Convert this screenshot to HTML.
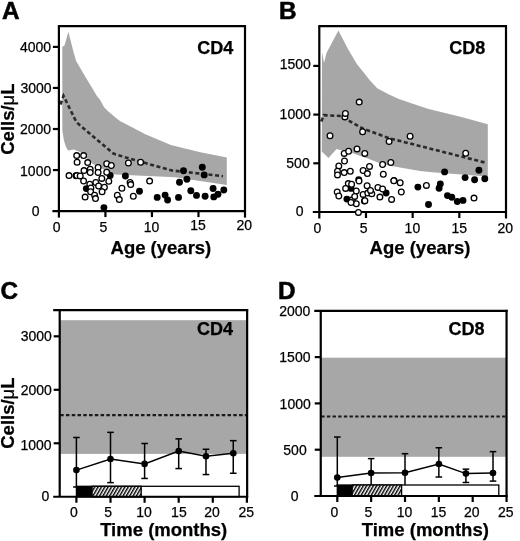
<!DOCTYPE html>
<html><head><meta charset="utf-8"><style>
html,body{margin:0;padding:0;background:#fff;overflow:hidden}
svg{display:block;will-change:transform}
text{font-family:"Liberation Sans",sans-serif;fill:#000;stroke:#000;stroke-width:0.25px}
</style></head><body>
<svg width="520" height="541" viewBox="0 0 520 541">
<defs><pattern id="hatch" patternUnits="userSpaceOnUse" width="2.9" height="4" patternTransform="rotate(30)"><rect width="2.9" height="4" fill="#fff"/><rect x="0" y="0" width="1.45" height="4" fill="#000"/></pattern></defs>
<rect width="520" height="541" fill="#fff"/>
<polygon points="62.3,46.8 64.5,45.4 68.4,31.8 73.5,51.9 76.1,61.0 85.2,76.5 92.6,88.8 96.9,96.0 99.8,99.6 104.1,107.3 108.4,111.6 115.4,117.6 120.0,121.0 145.4,134.3 170.8,144.9 200.4,152.3 226.8,157.6 226.8,185.0 175.0,177.3 115.0,174.4 110.0,172.7 93.0,164.0 80.0,152.0 74.0,149.5 68.0,150.5 66.0,147.0 63.8,140.0 62.3,130.0" fill="#a7a7a7"/>
<polygon points="322.0,52.0 324.0,63.0 326.5,53.0 338.4,30.4 348.0,49.0 356.5,63.5 366.1,75.5 370.0,80.5 377.2,88.2 388.0,94.0 398.8,99.0 427.7,108.7 461.3,117.1 487.8,124.3 487.8,176.6 432.0,172.3 420.0,171.0 390.0,165.8 380.0,163.2 367.0,158.3 353.6,153.5 336.5,149.0 328.5,158.0 321.8,151.5" fill="#a7a7a7"/>
<polyline points="60.5,104.5 63.5,95.8 76.5,122.3 95.0,138.0 113.5,153.6 130.0,158.8 141.0,161.7 155.0,165.8 172.0,170.5 223.0,176.2" fill="none" stroke="#2a2a2a" stroke-width="2.6" stroke-dasharray="4 2.6"/>
<polyline points="321.3,121.5 323.8,115.2 341.0,116.0 362.6,128.5 390.0,138.5 440.0,151.1 485.0,162.5" fill="none" stroke="#2a2a2a" stroke-width="2.6" stroke-dasharray="4 2.6"/>
<line x1="58.90" y1="26.15" x2="58.90" y2="217.60" stroke="#000" stroke-width="2.2" />
<line x1="52.40" y1="211.10" x2="246.00" y2="211.10" stroke="#000" stroke-width="2.2" />
<line x1="57.90" y1="26.15" x2="246.00" y2="26.15" stroke="#000" stroke-width="2.2" />
<line x1="245.00" y1="25.15" x2="245.00" y2="217.60" stroke="#000" stroke-width="2.2" />
<line x1="52.90" y1="170.05" x2="58.90" y2="170.05" stroke="#000" stroke-width="2.2" />
<line x1="52.90" y1="129.00" x2="58.90" y2="129.00" stroke="#000" stroke-width="2.2" />
<line x1="52.90" y1="87.95" x2="58.90" y2="87.95" stroke="#000" stroke-width="2.2" />
<line x1="52.90" y1="46.90" x2="58.90" y2="46.90" stroke="#000" stroke-width="2.2" />
<line x1="105.42" y1="211.10" x2="105.42" y2="217.10" stroke="#000" stroke-width="2.2" />
<line x1="151.95" y1="211.10" x2="151.95" y2="217.10" stroke="#000" stroke-width="2.2" />
<line x1="198.47" y1="211.10" x2="198.47" y2="217.10" stroke="#000" stroke-width="2.2" />
<text x="35.50" y="51.90" font-size="14" font-weight="normal" text-anchor="middle" >4000</text>
<text x="36.10" y="93.25" font-size="14" font-weight="normal" text-anchor="middle" >3000</text>
<text x="35.55" y="134.40" font-size="14" font-weight="normal" text-anchor="middle" >2000</text>
<text x="35.65" y="175.70" font-size="14" font-weight="normal" text-anchor="middle" >1000</text>
<text x="35.70" y="216.45" font-size="14" font-weight="normal" text-anchor="middle" >0</text>
<text x="56.60" y="232.00" font-size="14" font-weight="normal" text-anchor="middle" >0</text>
<text x="103.50" y="232.00" font-size="14" font-weight="normal" text-anchor="middle" >5</text>
<text x="151.60" y="232.00" font-size="14" font-weight="normal" text-anchor="middle" >10</text>
<text x="198.00" y="229.80" font-size="14" font-weight="normal" text-anchor="middle" >15</text>
<text x="244.30" y="229.80" font-size="14" font-weight="normal" text-anchor="middle" >20</text>
<text x="160.90" y="253.80" font-size="18.5" font-weight="bold" text-anchor="middle" >Age (years)</text>
<text x="14.40" y="119.10" font-size="18.5" font-weight="bold" text-anchor="middle" transform="rotate(-90 14.4 119.1)">Cells/<tspan font-weight="normal">μ</tspan>L</text>
<text x="1.90" y="18.80" font-size="24.3" font-weight="bold" text-anchor="start" style="stroke-width:0.55px">A</text>
<text x="233.30" y="53.70" font-size="18" font-weight="bold" text-anchor="end" >CD4</text>
<line x1="319.30" y1="26.15" x2="319.30" y2="218.50" stroke="#000" stroke-width="2.2" />
<line x1="312.80" y1="212.00" x2="507.00" y2="212.00" stroke="#000" stroke-width="2.2" />
<line x1="318.30" y1="26.15" x2="507.00" y2="26.15" stroke="#000" stroke-width="2.2" />
<line x1="506.00" y1="25.15" x2="506.00" y2="218.50" stroke="#000" stroke-width="2.2" />
<line x1="313.30" y1="163.30" x2="319.30" y2="163.30" stroke="#000" stroke-width="2.2" />
<line x1="313.30" y1="114.60" x2="319.30" y2="114.60" stroke="#000" stroke-width="2.2" />
<line x1="313.30" y1="65.90" x2="319.30" y2="65.90" stroke="#000" stroke-width="2.2" />
<line x1="365.98" y1="212.00" x2="365.98" y2="218.00" stroke="#000" stroke-width="2.2" />
<line x1="412.65" y1="212.00" x2="412.65" y2="218.00" stroke="#000" stroke-width="2.2" />
<line x1="459.33" y1="212.00" x2="459.33" y2="218.00" stroke="#000" stroke-width="2.2" />
<text x="295.25" y="69.45" font-size="14" font-weight="normal" text-anchor="middle" >1500</text>
<text x="295.20" y="118.60" font-size="14" font-weight="normal" text-anchor="middle" >1000</text>
<text x="298.00" y="167.55" font-size="14" font-weight="normal" text-anchor="middle" >500</text>
<text x="299.70" y="216.10" font-size="14" font-weight="normal" text-anchor="middle" >0</text>
<text x="317.30" y="233.00" font-size="14" font-weight="normal" text-anchor="middle" >0</text>
<text x="363.70" y="233.00" font-size="14" font-weight="normal" text-anchor="middle" >5</text>
<text x="412.40" y="233.00" font-size="14" font-weight="normal" text-anchor="middle" >10</text>
<text x="459.20" y="233.00" font-size="14" font-weight="normal" text-anchor="middle" >15</text>
<text x="505.30" y="233.00" font-size="14" font-weight="normal" text-anchor="middle" >20</text>
<text x="420.00" y="254.30" font-size="18.5" font-weight="bold" text-anchor="middle" >Age (years)</text>
<text x="279.00" y="18.80" font-size="24.3" font-weight="bold" text-anchor="start" style="stroke-width:0.55px">B</text>
<text x="485.20" y="53.50" font-size="18" font-weight="bold" text-anchor="end" >CD8</text>
<circle cx="75.9" cy="175.7" r="3.45" fill="#000"/>
<circle cx="86.3" cy="188.6" r="3.45" fill="#000"/>
<circle cx="110.2" cy="175.5" r="3.45" fill="#000"/>
<circle cx="125.4" cy="176.0" r="3.45" fill="#000"/>
<circle cx="139.5" cy="191.3" r="3.45" fill="#000"/>
<circle cx="103.9" cy="207.6" r="3.45" fill="#000"/>
<circle cx="157.2" cy="197.4" r="3.45" fill="#000"/>
<circle cx="165.1" cy="195.1" r="3.45" fill="#000"/>
<circle cx="167.6" cy="200.0" r="3.45" fill="#000"/>
<circle cx="183.5" cy="170.8" r="3.45" fill="#000"/>
<circle cx="202.3" cy="167.2" r="3.45" fill="#000"/>
<circle cx="204.2" cy="174.9" r="3.45" fill="#000"/>
<circle cx="186.9" cy="179.2" r="3.45" fill="#000"/>
<circle cx="179.5" cy="182.3" r="3.45" fill="#000"/>
<circle cx="213.1" cy="188.5" r="3.45" fill="#000"/>
<circle cx="223.8" cy="190.0" r="3.45" fill="#000"/>
<circle cx="190.8" cy="190.8" r="3.45" fill="#000"/>
<circle cx="196.5" cy="195.4" r="3.45" fill="#000"/>
<circle cx="205.1" cy="196.2" r="3.45" fill="#000"/>
<circle cx="218.0" cy="194.3" r="3.45" fill="#000"/>
<circle cx="213.8" cy="196.9" r="3.45" fill="#000"/>
<circle cx="178.5" cy="197.4" r="3.45" fill="#000"/>
<circle cx="76.9" cy="175.6" r="2.85" fill="#fff" stroke="#000" stroke-width="1.3"/>
<circle cx="76.7" cy="155.6" r="2.85" fill="#fff" stroke="#000" stroke-width="1.3"/>
<circle cx="83.6" cy="155.6" r="2.85" fill="#fff" stroke="#000" stroke-width="1.3"/>
<circle cx="77.1" cy="162.3" r="2.85" fill="#fff" stroke="#000" stroke-width="1.3"/>
<circle cx="87.7" cy="162.6" r="2.85" fill="#fff" stroke="#000" stroke-width="1.3"/>
<circle cx="106.7" cy="163.7" r="2.85" fill="#fff" stroke="#000" stroke-width="1.3"/>
<circle cx="111.3" cy="165.5" r="2.85" fill="#fff" stroke="#000" stroke-width="1.3"/>
<circle cx="98.1" cy="167.5" r="2.85" fill="#fff" stroke="#000" stroke-width="1.3"/>
<circle cx="90.2" cy="169.2" r="2.85" fill="#fff" stroke="#000" stroke-width="1.3"/>
<circle cx="84.0" cy="170.6" r="2.85" fill="#fff" stroke="#000" stroke-width="1.3"/>
<circle cx="90.2" cy="172.5" r="2.85" fill="#fff" stroke="#000" stroke-width="1.3"/>
<circle cx="98.1" cy="172.5" r="2.85" fill="#fff" stroke="#000" stroke-width="1.3"/>
<circle cx="106.7" cy="172.3" r="2.85" fill="#fff" stroke="#000" stroke-width="1.3"/>
<circle cx="69.0" cy="175.6" r="2.85" fill="#fff" stroke="#000" stroke-width="1.3"/>
<circle cx="80.2" cy="175.9" r="2.85" fill="#fff" stroke="#000" stroke-width="1.3"/>
<circle cx="101.8" cy="178.4" r="2.85" fill="#fff" stroke="#000" stroke-width="1.3"/>
<circle cx="108.8" cy="181.2" r="2.85" fill="#fff" stroke="#000" stroke-width="1.3"/>
<circle cx="83.6" cy="181.0" r="2.85" fill="#fff" stroke="#000" stroke-width="1.3"/>
<circle cx="89.8" cy="184.2" r="2.85" fill="#fff" stroke="#000" stroke-width="1.3"/>
<circle cx="95.8" cy="182.5" r="2.85" fill="#fff" stroke="#000" stroke-width="1.3"/>
<circle cx="98.6" cy="186.0" r="2.85" fill="#fff" stroke="#000" stroke-width="1.3"/>
<circle cx="104.4" cy="187.3" r="2.85" fill="#fff" stroke="#000" stroke-width="1.3"/>
<circle cx="90.9" cy="187.9" r="2.85" fill="#fff" stroke="#000" stroke-width="1.3"/>
<circle cx="90.6" cy="191.7" r="2.85" fill="#fff" stroke="#000" stroke-width="1.3"/>
<circle cx="102.1" cy="191.7" r="2.85" fill="#fff" stroke="#000" stroke-width="1.3"/>
<circle cx="94.6" cy="195.2" r="2.85" fill="#fff" stroke="#000" stroke-width="1.3"/>
<circle cx="85.1" cy="197.1" r="2.85" fill="#fff" stroke="#000" stroke-width="1.3"/>
<circle cx="95.5" cy="198.6" r="2.85" fill="#fff" stroke="#000" stroke-width="1.3"/>
<circle cx="117.3" cy="195.2" r="2.85" fill="#fff" stroke="#000" stroke-width="1.3"/>
<circle cx="119.3" cy="199.6" r="2.85" fill="#fff" stroke="#000" stroke-width="1.3"/>
<circle cx="121.9" cy="188.3" r="2.85" fill="#fff" stroke="#000" stroke-width="1.3"/>
<circle cx="130.1" cy="182.4" r="2.85" fill="#fff" stroke="#000" stroke-width="1.3"/>
<circle cx="130.7" cy="184.6" r="2.85" fill="#fff" stroke="#000" stroke-width="1.3"/>
<circle cx="133.3" cy="196.2" r="2.85" fill="#fff" stroke="#000" stroke-width="1.3"/>
<circle cx="128.4" cy="163.0" r="2.85" fill="#fff" stroke="#000" stroke-width="1.3"/>
<circle cx="140.6" cy="162.2" r="2.85" fill="#fff" stroke="#000" stroke-width="1.3"/>
<circle cx="149.6" cy="181.1" r="2.85" fill="#fff" stroke="#000" stroke-width="1.3"/>
<circle cx="358.7" cy="179.6" r="3.45" fill="#000"/>
<circle cx="351.0" cy="188.4" r="3.45" fill="#000"/>
<circle cx="346.9" cy="199.1" r="3.45" fill="#000"/>
<circle cx="386.1" cy="193.0" r="3.45" fill="#000"/>
<circle cx="444.6" cy="171.9" r="3.45" fill="#000"/>
<circle cx="478.9" cy="170.2" r="3.45" fill="#000"/>
<circle cx="465.1" cy="177.6" r="3.45" fill="#000"/>
<circle cx="474.6" cy="179.7" r="3.45" fill="#000"/>
<circle cx="484.8" cy="178.7" r="3.45" fill="#000"/>
<circle cx="417.9" cy="187.1" r="3.45" fill="#000"/>
<circle cx="440.3" cy="183.9" r="3.45" fill="#000"/>
<circle cx="439.1" cy="188.2" r="3.45" fill="#000"/>
<circle cx="447.5" cy="195.6" r="3.45" fill="#000"/>
<circle cx="451.8" cy="197.3" r="3.45" fill="#000"/>
<circle cx="457.3" cy="201.5" r="3.45" fill="#000"/>
<circle cx="463.0" cy="200.4" r="3.45" fill="#000"/>
<circle cx="428.5" cy="204.5" r="3.45" fill="#000"/>
<circle cx="359.2" cy="102.1" r="2.85" fill="#fff" stroke="#000" stroke-width="1.3"/>
<circle cx="344.9" cy="116.9" r="2.85" fill="#fff" stroke="#000" stroke-width="1.3"/>
<circle cx="345.4" cy="113.4" r="2.85" fill="#fff" stroke="#000" stroke-width="1.3"/>
<circle cx="330.0" cy="135.8" r="2.85" fill="#fff" stroke="#000" stroke-width="1.3"/>
<circle cx="362.6" cy="131.8" r="2.85" fill="#fff" stroke="#000" stroke-width="1.3"/>
<circle cx="389.1" cy="141.5" r="2.85" fill="#fff" stroke="#000" stroke-width="1.3"/>
<circle cx="410.1" cy="136.3" r="2.85" fill="#fff" stroke="#000" stroke-width="1.3"/>
<circle cx="465.7" cy="153.3" r="2.85" fill="#fff" stroke="#000" stroke-width="1.3"/>
<circle cx="344.2" cy="153.4" r="2.85" fill="#fff" stroke="#000" stroke-width="1.3"/>
<circle cx="348.6" cy="151.3" r="2.85" fill="#fff" stroke="#000" stroke-width="1.3"/>
<circle cx="357.0" cy="148.9" r="2.85" fill="#fff" stroke="#000" stroke-width="1.3"/>
<circle cx="364.8" cy="153.4" r="2.85" fill="#fff" stroke="#000" stroke-width="1.3"/>
<circle cx="344.5" cy="161.0" r="2.85" fill="#fff" stroke="#000" stroke-width="1.3"/>
<circle cx="338.8" cy="165.9" r="2.85" fill="#fff" stroke="#000" stroke-width="1.3"/>
<circle cx="337.5" cy="171.3" r="2.85" fill="#fff" stroke="#000" stroke-width="1.3"/>
<circle cx="337.5" cy="174.9" r="2.85" fill="#fff" stroke="#000" stroke-width="1.3"/>
<circle cx="344.2" cy="172.6" r="2.85" fill="#fff" stroke="#000" stroke-width="1.3"/>
<circle cx="350.3" cy="171.3" r="2.85" fill="#fff" stroke="#000" stroke-width="1.3"/>
<circle cx="363.1" cy="170.5" r="2.85" fill="#fff" stroke="#000" stroke-width="1.3"/>
<circle cx="369.5" cy="166.4" r="2.85" fill="#fff" stroke="#000" stroke-width="1.3"/>
<circle cx="367.4" cy="173.6" r="2.85" fill="#fff" stroke="#000" stroke-width="1.3"/>
<circle cx="382.6" cy="164.5" r="2.85" fill="#fff" stroke="#000" stroke-width="1.3"/>
<circle cx="383.3" cy="174.2" r="2.85" fill="#fff" stroke="#000" stroke-width="1.3"/>
<circle cx="390.8" cy="162.5" r="2.85" fill="#fff" stroke="#000" stroke-width="1.3"/>
<circle cx="359.0" cy="181.0" r="2.85" fill="#fff" stroke="#000" stroke-width="1.3"/>
<circle cx="348.3" cy="183.6" r="2.85" fill="#fff" stroke="#000" stroke-width="1.3"/>
<circle cx="345.6" cy="188.4" r="2.85" fill="#fff" stroke="#000" stroke-width="1.3"/>
<circle cx="351.6" cy="184.3" r="2.85" fill="#fff" stroke="#000" stroke-width="1.3"/>
<circle cx="356.3" cy="191.0" r="2.85" fill="#fff" stroke="#000" stroke-width="1.3"/>
<circle cx="367.1" cy="185.7" r="2.85" fill="#fff" stroke="#000" stroke-width="1.3"/>
<circle cx="337.2" cy="192.0" r="2.85" fill="#fff" stroke="#000" stroke-width="1.3"/>
<circle cx="338.8" cy="196.0" r="2.85" fill="#fff" stroke="#000" stroke-width="1.3"/>
<circle cx="352.3" cy="199.8" r="2.85" fill="#fff" stroke="#000" stroke-width="1.3"/>
<circle cx="354.7" cy="196.4" r="2.85" fill="#fff" stroke="#000" stroke-width="1.3"/>
<circle cx="356.3" cy="203.8" r="2.85" fill="#fff" stroke="#000" stroke-width="1.3"/>
<circle cx="351.0" cy="202.5" r="2.85" fill="#fff" stroke="#000" stroke-width="1.3"/>
<circle cx="364.4" cy="200.9" r="2.85" fill="#fff" stroke="#000" stroke-width="1.3"/>
<circle cx="363.1" cy="194.4" r="2.85" fill="#fff" stroke="#000" stroke-width="1.3"/>
<circle cx="367.8" cy="193.1" r="2.85" fill="#fff" stroke="#000" stroke-width="1.3"/>
<circle cx="371.8" cy="193.7" r="2.85" fill="#fff" stroke="#000" stroke-width="1.3"/>
<circle cx="370.5" cy="190.4" r="2.85" fill="#fff" stroke="#000" stroke-width="1.3"/>
<circle cx="377.9" cy="187.4" r="2.85" fill="#fff" stroke="#000" stroke-width="1.3"/>
<circle cx="382.6" cy="189.0" r="2.85" fill="#fff" stroke="#000" stroke-width="1.3"/>
<circle cx="379.9" cy="197.1" r="2.85" fill="#fff" stroke="#000" stroke-width="1.3"/>
<circle cx="391.6" cy="199.4" r="2.85" fill="#fff" stroke="#000" stroke-width="1.3"/>
<circle cx="394.0" cy="180.5" r="2.85" fill="#fff" stroke="#000" stroke-width="1.3"/>
<circle cx="400.2" cy="182.7" r="2.85" fill="#fff" stroke="#000" stroke-width="1.3"/>
<circle cx="401.3" cy="192.0" r="2.85" fill="#fff" stroke="#000" stroke-width="1.3"/>
<circle cx="364.9" cy="200.7" r="2.85" fill="#fff" stroke="#000" stroke-width="1.3"/>
<circle cx="358.4" cy="212.4" r="2.85" fill="#fff" stroke="#000" stroke-width="1.3"/>
<circle cx="393.8" cy="180.8" r="2.85" fill="#fff" stroke="#000" stroke-width="1.3"/>
<circle cx="426.4" cy="185.4" r="2.85" fill="#fff" stroke="#000" stroke-width="1.3"/>
<circle cx="474.0" cy="198.1" r="2.85" fill="#fff" stroke="#000" stroke-width="1.3"/>
<rect x="59.7" y="320.2" width="187.45" height="133.7" fill="#a7a7a7"/>
<line x1="60.20" y1="415.10" x2="247.15" y2="415.10" stroke="#1a1a1a" stroke-width="2.2" stroke-dasharray="3.5 2.27"/>
<g>
<line x1="76.40" y1="437.49" x2="76.40" y2="487.00" stroke="#000" stroke-width="1.5" />
<line x1="73.10" y1="437.49" x2="79.70" y2="437.49" stroke="#000" stroke-width="1.5" />
<line x1="73.10" y1="487.00" x2="79.70" y2="487.00" stroke="#000" stroke-width="1.5" />
<line x1="110.50" y1="432.36" x2="110.50" y2="482.63" stroke="#000" stroke-width="1.5" />
<line x1="107.20" y1="432.36" x2="113.80" y2="432.36" stroke="#000" stroke-width="1.5" />
<line x1="107.20" y1="482.63" x2="113.80" y2="482.63" stroke="#000" stroke-width="1.5" />
<line x1="144.60" y1="443.48" x2="144.60" y2="478.46" stroke="#000" stroke-width="1.5" />
<line x1="141.30" y1="443.48" x2="147.90" y2="443.48" stroke="#000" stroke-width="1.5" />
<line x1="141.30" y1="478.46" x2="147.90" y2="478.46" stroke="#000" stroke-width="1.5" />
<line x1="178.70" y1="438.88" x2="178.70" y2="468.57" stroke="#000" stroke-width="1.5" />
<line x1="175.40" y1="438.88" x2="182.00" y2="438.88" stroke="#000" stroke-width="1.5" />
<line x1="175.40" y1="468.57" x2="182.00" y2="468.57" stroke="#000" stroke-width="1.5" />
<line x1="205.98" y1="449.26" x2="205.98" y2="474.56" stroke="#000" stroke-width="1.5" />
<line x1="202.68" y1="449.26" x2="209.28" y2="449.26" stroke="#000" stroke-width="1.5" />
<line x1="202.68" y1="474.56" x2="209.28" y2="474.56" stroke="#000" stroke-width="1.5" />
<line x1="233.26" y1="440.65" x2="233.26" y2="473.27" stroke="#000" stroke-width="1.5" />
<line x1="229.96" y1="440.65" x2="236.56" y2="440.65" stroke="#000" stroke-width="1.5" />
<line x1="229.96" y1="473.27" x2="236.56" y2="473.27" stroke="#000" stroke-width="1.5" />
<polyline points="76.4,470.1 110.5,459.0 144.6,463.9 178.7,451.1 206.0,456.3 233.3,453.2" fill="none" stroke="#000" stroke-width="1.5"/>
<circle cx="76.4" cy="470.1" r="3.3" fill="#000"/>
<circle cx="110.5" cy="459.0" r="3.3" fill="#000"/>
<circle cx="144.6" cy="463.9" r="3.3" fill="#000"/>
<circle cx="178.7" cy="451.1" r="3.3" fill="#000"/>
<circle cx="206.0" cy="456.3" r="3.3" fill="#000"/>
<circle cx="233.3" cy="453.2" r="3.3" fill="#000"/>
</g>
<rect x="76.4" y="486.3" width="162.7" height="10.4" fill="#fff" stroke="#000" stroke-width="1.3"/>
<rect x="76.4" y="486.3" width="15.7" height="10.4" fill="#000"/>
<rect x="92.1" y="486.3" width="49.1" height="10.4" fill="url(#hatch)" stroke="#000" stroke-width="1.3"/>
<line x1="59.70" y1="310.20" x2="59.70" y2="496.75" stroke="#000" stroke-width="2.2" />
<line x1="53.20" y1="496.75" x2="248.15" y2="496.75" stroke="#000" stroke-width="2.2" />
<line x1="53.20" y1="310.20" x2="248.15" y2="310.20" stroke="#000" stroke-width="2.2" />
<line x1="247.15" y1="309.20" x2="247.15" y2="497.75" stroke="#000" stroke-width="2.2" />
<line x1="53.70" y1="443.27" x2="59.70" y2="443.27" stroke="#000" stroke-width="2.2" />
<line x1="53.70" y1="389.79" x2="59.70" y2="389.79" stroke="#000" stroke-width="2.2" />
<line x1="53.70" y1="336.31" x2="59.70" y2="336.31" stroke="#000" stroke-width="2.2" />
<line x1="76.40" y1="496.75" x2="76.40" y2="502.75" stroke="#000" stroke-width="2.2" />
<line x1="110.50" y1="496.75" x2="110.50" y2="502.75" stroke="#000" stroke-width="2.2" />
<line x1="144.60" y1="496.75" x2="144.60" y2="502.75" stroke="#000" stroke-width="2.2" />
<line x1="178.70" y1="496.75" x2="178.70" y2="502.75" stroke="#000" stroke-width="2.2" />
<line x1="212.80" y1="496.75" x2="212.80" y2="502.75" stroke="#000" stroke-width="2.2" />
<line x1="246.90" y1="496.75" x2="246.90" y2="502.75" stroke="#000" stroke-width="2.2" />
<text x="36.25" y="341.25" font-size="14" font-weight="normal" text-anchor="middle" >3000</text>
<text x="36.25" y="394.75" font-size="14" font-weight="normal" text-anchor="middle" >2000</text>
<text x="36.10" y="449.80" font-size="14" font-weight="normal" text-anchor="middle" >1000</text>
<text x="45.40" y="501.10" font-size="14" font-weight="normal" text-anchor="middle" >0</text>
<text x="74.00" y="516.80" font-size="14" font-weight="normal" text-anchor="middle" >0</text>
<text x="108.20" y="516.80" font-size="14" font-weight="normal" text-anchor="middle" >5</text>
<text x="144.10" y="516.80" font-size="14" font-weight="normal" text-anchor="middle" >10</text>
<text x="178.90" y="516.80" font-size="14" font-weight="normal" text-anchor="middle" >15</text>
<text x="212.10" y="516.80" font-size="14" font-weight="normal" text-anchor="middle" >20</text>
<text x="246.20" y="516.80" font-size="14" font-weight="normal" text-anchor="middle" >25</text>
<text x="163.70" y="536.30" font-size="18.5" font-weight="bold" text-anchor="middle" >Time (months)</text>
<text x="14.40" y="413.10" font-size="18.5" font-weight="bold" text-anchor="middle" transform="rotate(-90 14.4 413.1)">Cells/<tspan font-weight="normal">μ</tspan>L</text>
<text x="0.50" y="299.00" font-size="24.3" font-weight="bold" text-anchor="start" style="stroke-width:0.55px">C</text>
<text x="233.00" y="334.70" font-size="18" font-weight="bold" text-anchor="end" >CD4</text>
<rect x="320.75" y="357.7" width="185.8" height="99.1" fill="#a7a7a7"/>
<line x1="321.25" y1="416.50" x2="506.55" y2="416.50" stroke="#1a1a1a" stroke-width="2.0" stroke-dasharray="3.4 2.25"/>
<line x1="337.30" y1="437.01" x2="337.30" y2="486.00" stroke="#000" stroke-width="1.5" />
<line x1="334.00" y1="437.01" x2="340.60" y2="437.01" stroke="#000" stroke-width="1.5" />
<line x1="334.00" y1="486.00" x2="340.60" y2="486.00" stroke="#000" stroke-width="1.5" />
<line x1="371.15" y1="458.59" x2="371.15" y2="486.46" stroke="#000" stroke-width="1.5" />
<line x1="367.85" y1="458.59" x2="374.45" y2="458.59" stroke="#000" stroke-width="1.5" />
<line x1="367.85" y1="486.46" x2="374.45" y2="486.46" stroke="#000" stroke-width="1.5" />
<line x1="405.00" y1="453.68" x2="405.00" y2="486.00" stroke="#000" stroke-width="1.5" />
<line x1="401.70" y1="453.68" x2="408.30" y2="453.68" stroke="#000" stroke-width="1.5" />
<line x1="401.70" y1="486.00" x2="408.30" y2="486.00" stroke="#000" stroke-width="1.5" />
<line x1="438.85" y1="447.76" x2="438.85" y2="477.02" stroke="#000" stroke-width="1.5" />
<line x1="435.55" y1="447.76" x2="442.15" y2="447.76" stroke="#000" stroke-width="1.5" />
<line x1="435.55" y1="477.02" x2="442.15" y2="477.02" stroke="#000" stroke-width="1.5" />
<line x1="465.93" y1="469.15" x2="465.93" y2="482.48" stroke="#000" stroke-width="1.5" />
<line x1="462.63" y1="469.15" x2="469.23" y2="469.15" stroke="#000" stroke-width="1.5" />
<line x1="462.63" y1="482.48" x2="469.23" y2="482.48" stroke="#000" stroke-width="1.5" />
<line x1="493.01" y1="451.64" x2="493.01" y2="481.09" stroke="#000" stroke-width="1.5" />
<line x1="489.71" y1="451.64" x2="496.31" y2="451.64" stroke="#000" stroke-width="1.5" />
<line x1="489.71" y1="481.09" x2="496.31" y2="481.09" stroke="#000" stroke-width="1.5" />
<polyline points="337.3,477.6 371.1,473.0 405.0,472.7 438.9,464.0 465.9,473.6 493.0,473.0" fill="none" stroke="#000" stroke-width="1.5"/>
<circle cx="337.3" cy="477.6" r="3.3" fill="#000"/>
<circle cx="371.1" cy="473.0" r="3.3" fill="#000"/>
<circle cx="405.0" cy="472.7" r="3.3" fill="#000"/>
<circle cx="438.9" cy="464.0" r="3.3" fill="#000"/>
<circle cx="465.9" cy="473.6" r="3.3" fill="#000"/>
<circle cx="493.0" cy="473.0" r="3.3" fill="#000"/>
<rect x="337.3" y="485.0" width="161.5" height="11.0" fill="#fff" stroke="#000" stroke-width="1.3"/>
<rect x="337.3" y="485.0" width="14.9" height="11.0" fill="#000"/>
<rect x="352.2" y="485.0" width="49.4" height="11.0" fill="url(#hatch)" stroke="#000" stroke-width="1.3"/>
<line x1="320.75" y1="310.80" x2="320.75" y2="496.00" stroke="#000" stroke-width="2.2" />
<line x1="314.25" y1="496.00" x2="507.55" y2="496.00" stroke="#000" stroke-width="2.2" />
<line x1="314.25" y1="310.80" x2="507.55" y2="310.80" stroke="#000" stroke-width="2.2" />
<line x1="506.55" y1="309.80" x2="506.55" y2="497.00" stroke="#000" stroke-width="2.2" />
<line x1="314.75" y1="449.70" x2="320.75" y2="449.70" stroke="#000" stroke-width="2.2" />
<line x1="314.75" y1="403.40" x2="320.75" y2="403.40" stroke="#000" stroke-width="2.2" />
<line x1="314.75" y1="357.10" x2="320.75" y2="357.10" stroke="#000" stroke-width="2.2" />
<line x1="337.30" y1="496.00" x2="337.30" y2="502.00" stroke="#000" stroke-width="2.2" />
<line x1="371.15" y1="496.00" x2="371.15" y2="502.00" stroke="#000" stroke-width="2.2" />
<line x1="405.00" y1="496.00" x2="405.00" y2="502.00" stroke="#000" stroke-width="2.2" />
<line x1="438.85" y1="496.00" x2="438.85" y2="502.00" stroke="#000" stroke-width="2.2" />
<line x1="472.70" y1="496.00" x2="472.70" y2="502.00" stroke="#000" stroke-width="2.2" />
<line x1="506.55" y1="496.00" x2="506.55" y2="502.00" stroke="#000" stroke-width="2.2" />
<text x="294.80" y="316.15" font-size="14" font-weight="normal" text-anchor="middle" >2000</text>
<text x="294.90" y="362.15" font-size="14" font-weight="normal" text-anchor="middle" >1500</text>
<text x="295.20" y="408.70" font-size="14" font-weight="normal" text-anchor="middle" >1000</text>
<text x="295.00" y="455.20" font-size="14" font-weight="normal" text-anchor="middle" >500</text>
<text x="294.60" y="501.20" font-size="14" font-weight="normal" text-anchor="middle" >0</text>
<text x="334.50" y="516.80" font-size="14" font-weight="normal" text-anchor="middle" >0</text>
<text x="368.50" y="516.80" font-size="14" font-weight="normal" text-anchor="middle" >5</text>
<text x="404.50" y="516.80" font-size="14" font-weight="normal" text-anchor="middle" >10</text>
<text x="438.60" y="516.80" font-size="14" font-weight="normal" text-anchor="middle" >15</text>
<text x="471.80" y="516.80" font-size="14" font-weight="normal" text-anchor="middle" >20</text>
<text x="505.80" y="516.80" font-size="14" font-weight="normal" text-anchor="middle" >25</text>
<text x="425.30" y="536.30" font-size="18.5" font-weight="bold" text-anchor="middle" >Time (months)</text>
<text x="278.00" y="298.70" font-size="24.3" font-weight="bold" text-anchor="start" style="stroke-width:0.55px">D</text>
<text x="484.50" y="335.40" font-size="18" font-weight="bold" text-anchor="end" >CD8</text>
</svg></body></html>
